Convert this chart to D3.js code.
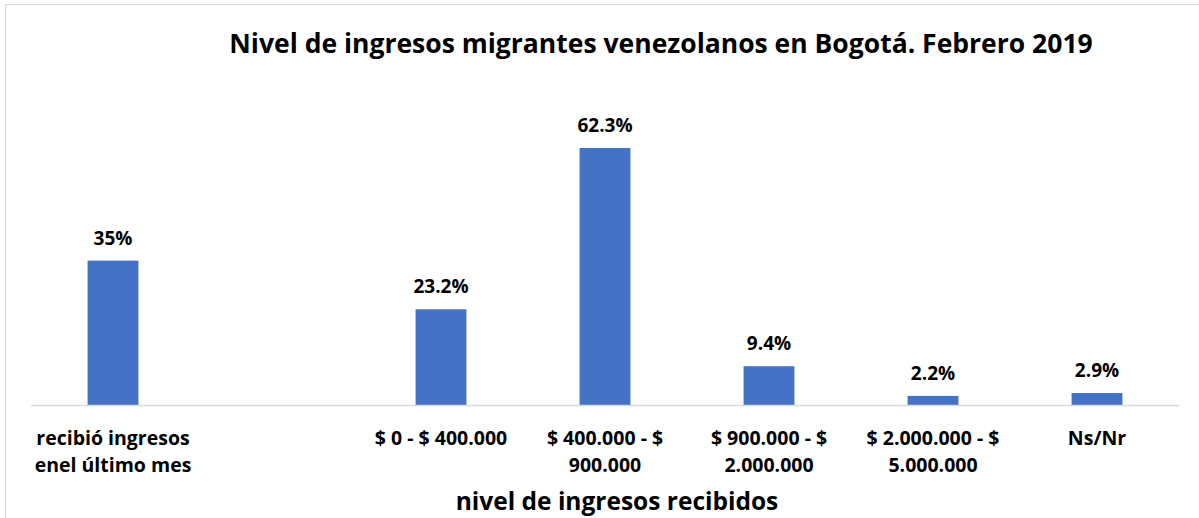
<!DOCTYPE html>
<html>
<head>
<meta charset="utf-8">
<script src="https://cdn.jsdelivr.net/npm/d3@7"></script>
<style>
  body { margin: 0; background: #fff; }
  text { font-family: "Open Sans", "Liberation Sans", sans-serif; font-weight: bold; fill: #000; }
</style>
</head>
<body>
<svg id="chart" width="1199" height="518"></svg>
<script>
// categories (one empty slot between the first bar and the income ranges)
var categories = ["recibió ingresos\nenel último mes", "", "$ 0 - $ 400.000", "$ 400.000 - $\n900.000", "$ 900.000 - $\n2.000.000", "$ 2.000.000 - $\n5.000.000", "Ns/Nr"];
var values = [35, null, 23.2, 62.3, 9.4, 2.2, 2.9];
var valueLabels = ["35%", "", "23.2%", "62.3%", "9.4%", "2.2%", "2.9%"];

var svg = d3.select("#chart"),
    width = +svg.attr("width"),
    height = +svg.attr("height");

var baseY = 405;

// frame
svg.append("path")
    .attr("d", "M5.5,518 L5.5,4.5 L1199,4.5")
    .attr("fill", "none")
    .attr("stroke", "#d9d9d9");

var x = d3.scaleBand()
    .domain(d3.range(categories.length))
    .range([31, 1179]);

var y = d3.scaleLinear()
    .domain([0, 62.3])
    .range([baseY, 148]);

var barW = x.bandwidth() * 0.31;

var data = categories.map(function (c, i) {
    return { cat: c, value: values[i], label: valueLabels[i], i: i };
});

// bars
svg.selectAll(".bar")
    .data(data.filter(function (d) { return d.value != null; }))
    .enter().append("rect")
    .attr("class", "bar")
    .attr("x", function (d) { return x(d.i) + (x.bandwidth() - barW) / 2; })
    .attr("y", function (d) { return y(d.value); })
    .attr("width", barW)
    .attr("height", function (d) { return baseY - y(d.value); })
    .attr("fill", "#4472c4");

// axis line
svg.append("line")
    .attr("x1", x.range()[0]).attr("x2", x.range()[1])
    .attr("y1", baseY + 0.5).attr("y2", baseY + 0.5)
    .attr("stroke", "#d9d9d9")
    .attr("stroke-width", 1.5);

// value labels
svg.selectAll(".val")
    .data(data.filter(function (d) { return d.value != null; }))
    .enter().append("text")
    .attr("class", "val")
    .attr("x", function (d) { return x(d.i) + x.bandwidth() / 2; })
    .attr("y", function (d) { return y(d.value) - 16; })
    .attr("text-anchor", "middle")
    .style("font-size", "19px")
    .text(function (d) { return d.label; });

// category labels
var cat = svg.selectAll(".cat")
    .data(data)
    .enter().append("text")
    .attr("class", "cat")
    .attr("text-anchor", "middle")
    .style("font-size", "19.5px")
    .attr("transform", function (d) { return "translate(" + (x(d.i) + x.bandwidth() / 2) + ",445)"; });

cat.selectAll("tspan")
    .data(function (d) { return d.cat.split("\n"); })
    .enter().append("tspan")
    .attr("x", 0)
    .attr("dy", function (d, i) { return i === 0 ? 0 : 27; })
    .text(function (d) { return d; });

// title
svg.append("text")
    .attr("x", 661)
    .attr("y", 53)
    .attr("text-anchor", "middle")
    .style("font-size", "26.5px")
    .text("Nivel de ingresos migrantes venezolanos en Bogotá. Febrero 2019");

// axis title
svg.append("text")
    .attr("x", 617)
    .attr("y", 510)
    .attr("text-anchor", "middle")
    .style("font-size", "24.5px")
    .text("nivel de ingresos recibidos");
</script>
</body>
</html>
